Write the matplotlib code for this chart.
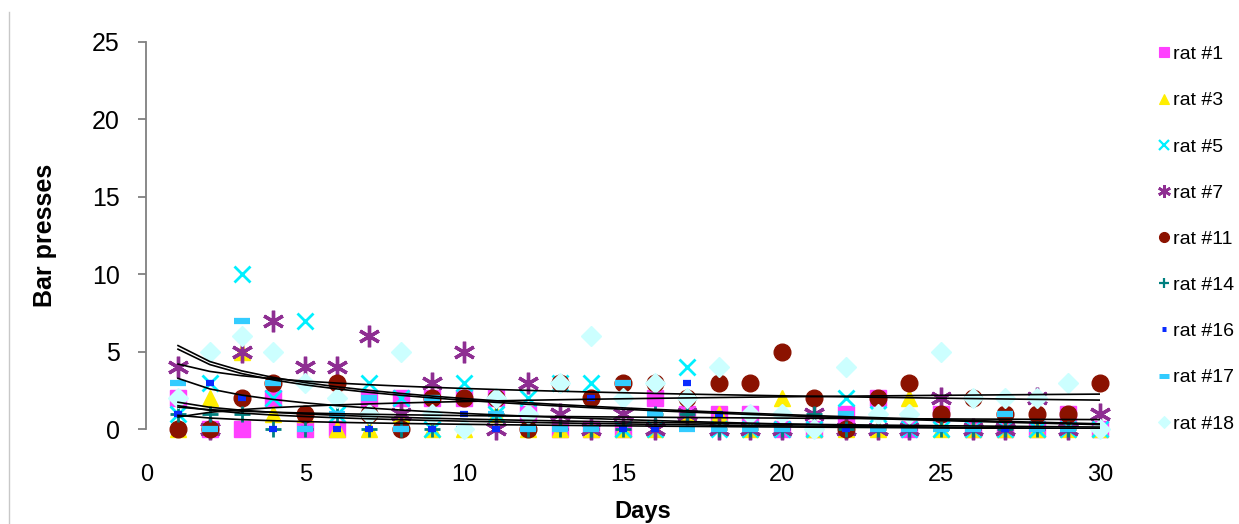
import numpy as np
import matplotlib
matplotlib.use("Agg")
import matplotlib.pyplot as plt
from matplotlib.lines import Line2D

plt.rcParams['font.family'] = ['Liberation Sans', 'DejaVu Sans']

days = np.arange(1, 31)

rat1 = [2, 0, 0, 2, 0, 0, 2, 2, 2, 2, 2, 1, 0, 0, 0, 2, 1, 1, 1, 0, 0, 1, 2, 0, 1, 0, 0, 0, 1, 0]
rat3 = [0, 2, 5, 1, 1, 0, 0, 1, 0, 0, 1, 0, 0, 0, 0, 0, 1, 1, 0, 2, 0, 0, 0, 2, 0, 0, 0, 0, 0, 0]
rat5 = [1, 3, 10, 2, 7, 1, 3, 2, 0, 3, 1, 2, 3, 3, 0, 0, 4, 0, 0, 0, 0, 2, 1, 0, 0, 0, 0, 0, 0, 0]
rat7 = [4, 0, 5, 7, 4, 4, 6, 1, 3, 5, 0, 3, 1, 0, 1, 0, 1, 0, 0, 0, 1, 0, 0, 0, 2, 0, 0, 2, 0, 1]
rat11 = [0, 0, 2, 3, 1, 3, 1, 0, 2, 2, 2, 0, 3, 2, 3, 3, 2, 3, 3, 5, 2, 0, 2, 3, 1, 2, 1, 1, 1, 3]
rat14 = [1, 1, 1, 0, 0, 1, 0, 0, 0, 0, 1, 0, 0, 0, 0, 1, 1, 0, 0, 0, 1, 0, 0, 0, 0, 0, 0, 0, 0, 0]
rat16 = [1, 3, 2, 0, 0, 0, 0, 0, 0, 1, 0, 0, 0, 2, 0, 0, 3, 1, 0, 0, 0, 0, 0, 0, 0, 0, 0, 0, 0, 0]
rat17 = [3, 0, 7, 3, 0, 1, 2, 0, 2, 0, 1, 0, 0, 0, 3, 1, 0, 0, 0, 0, 0, 1, 0, 0, 0, 0, 1, 0, 0, 0]
rat18 = [2, 5, 6, 5, 3, 2, 1, 5, 1, 0, 2, 1, 3, 6, 2, 3, 2, 4, 1, 1, 0, 4, 1, 1, 5, 2, 2, 2, 3, 0]

labels = ['rat #1', 'rat #3', 'rat #5', 'rat #7', 'rat #11',
          'rat #14', 'rat #16', 'rat #17', 'rat #18']
series = [rat1, rat3, rat5, rat7, rat11, rat14, rat16, rat17, rat18]

#  marker, colour, size, edge width
styles = [
    ('s', '#ff40ff', 11.5, 1.0),
    ('^', '#ffee00', 12, 1.0),
    ('x', '#00f0ff', 11.5, 2.0),
    ((6, 2, 0), '#8e2e92', 15.5, 2.4),
    ('o', '#8b1200', 12, 1.0),
    ('+', '#008080', 11.5, 2.0),
    ('_', '#0a2cff', 6, 4.5),
    ('_', '#33ccff', 11.5, 4.5),
    ('D', '#ccffff', 10.5, 1.0),
]

fig = plt.figure(figsize=(12.39, 5.24), dpi=100)
ax = fig.add_axes([0.118, 0.181, 0.770, 0.739])

handles = []
for vals, lab, (mk, col, ms, mew) in zip(series, labels, styles):
    ax.plot(days, vals, linestyle='none', marker=mk, color=col,
            markersize=ms, markeredgewidth=mew, markeredgecolor=col,
            clip_on=False, zorder=3)
    handles.append(Line2D([], [], linestyle='none', marker=mk, color=col,
                          markersize=ms * 0.6, markeredgewidth=mew * 0.8,
                          markeredgecolor=col, label=lab))

#  logarithmic trendlines (y = a*ln(x) + b) for each rat
for vals in series:
    a, b = np.polyfit(np.log(days), vals, 1)
    ax.plot(days, a * np.log(days) + b, color='black', linewidth=1.2,
            zorder=4)

ax.set_xlim(0, 30)
ax.set_ylim(0, 25)
ax.set_xticks(range(0, 31, 5))
ax.set_yticks(range(0, 26, 5))

for s in ['top', 'right', 'bottom']:
    ax.spines[s].set_visible(False)
ax.spines['left'].set_color('#808080')
ax.spines['left'].set_linewidth(1.3)
ax.tick_params(axis='y', direction='out', length=6, width=1.3,
               color='#808080', labelsize=18, pad=13)
ax.tick_params(axis='x', length=0, labelsize=17, pad=25)

ax.set_ylabel('Bar presses', fontsize=18, fontweight='bold')
ax.yaxis.set_label_coords(-0.093, 0.5)
ax.set_xlabel('Days', fontsize=17, fontweight='bold')
ax.xaxis.set_label_coords(0.52, -0.182)

fig.legend(handles=handles, loc='upper left', bbox_to_anchor=(0.929, 0.928),
           frameon=False, fontsize=14, handlelength=0.5, handletextpad=0.25,
           labelspacing=1.47, borderaxespad=0)

#  thin grey border line on the left
fig.add_artist(Line2D([0.0075, 0.0075], [0.0, 0.977], color='#c8c8c8',
                      linewidth=1))

fig.savefig('out.png', dpi=100)
